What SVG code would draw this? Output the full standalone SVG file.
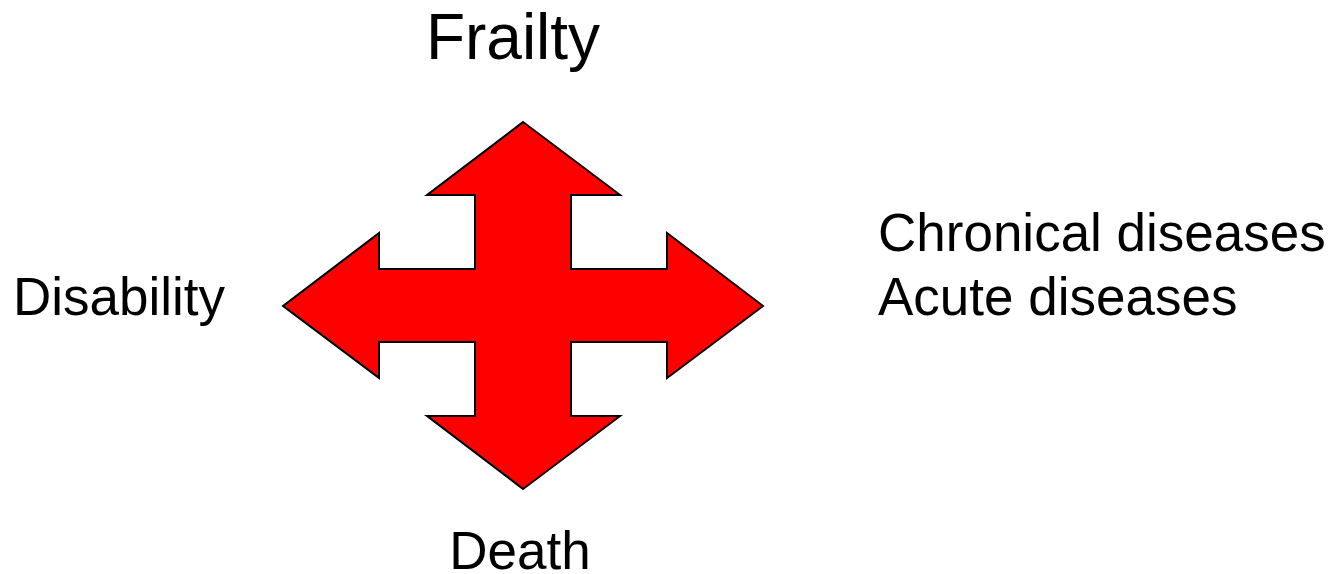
<svg xmlns="http://www.w3.org/2000/svg" width="1334" height="574" viewBox="0 0 1334 574">
<style>
.lbl{font-family:"Liberation Sans",Arial,sans-serif;fill:#000}
.arrow{fill:#ff0000;stroke:#000;stroke-width:2;stroke-linejoin:miter}
</style>
<rect width="1334" height="574" fill="#fff"/>
<g id="cross-arrow">
<path class="arrow" d="M523,122 L620,195 L571,195 L571,269 L667,269 L667,233 L763,306 L667,378 L667,342 L571,342 L571,416 L620,416 L523,489 L427,416 L475,416 L475,342 L379,342 L379,378 L283,306 L379,233 L379,269 L475,269 L475,195 L427,195 Z"/>
</g>
<g id="frailty"><text class="lbl" x="513" y="59" font-size="64" text-anchor="middle">Frailty</text></g>
<g id="disability"><text class="lbl" x="13" y="315" font-size="53">Disability</text></g>
<g id="diseases"><text class="lbl" x="878" y="251" font-size="53">Chronical diseases</text><text class="lbl" x="878" y="315" font-size="53">Acute diseases</text></g>
<g id="death"><text class="lbl" x="520" y="569" font-size="53" text-anchor="middle">Death</text></g>
<g id="connectors"></g>
</svg>
